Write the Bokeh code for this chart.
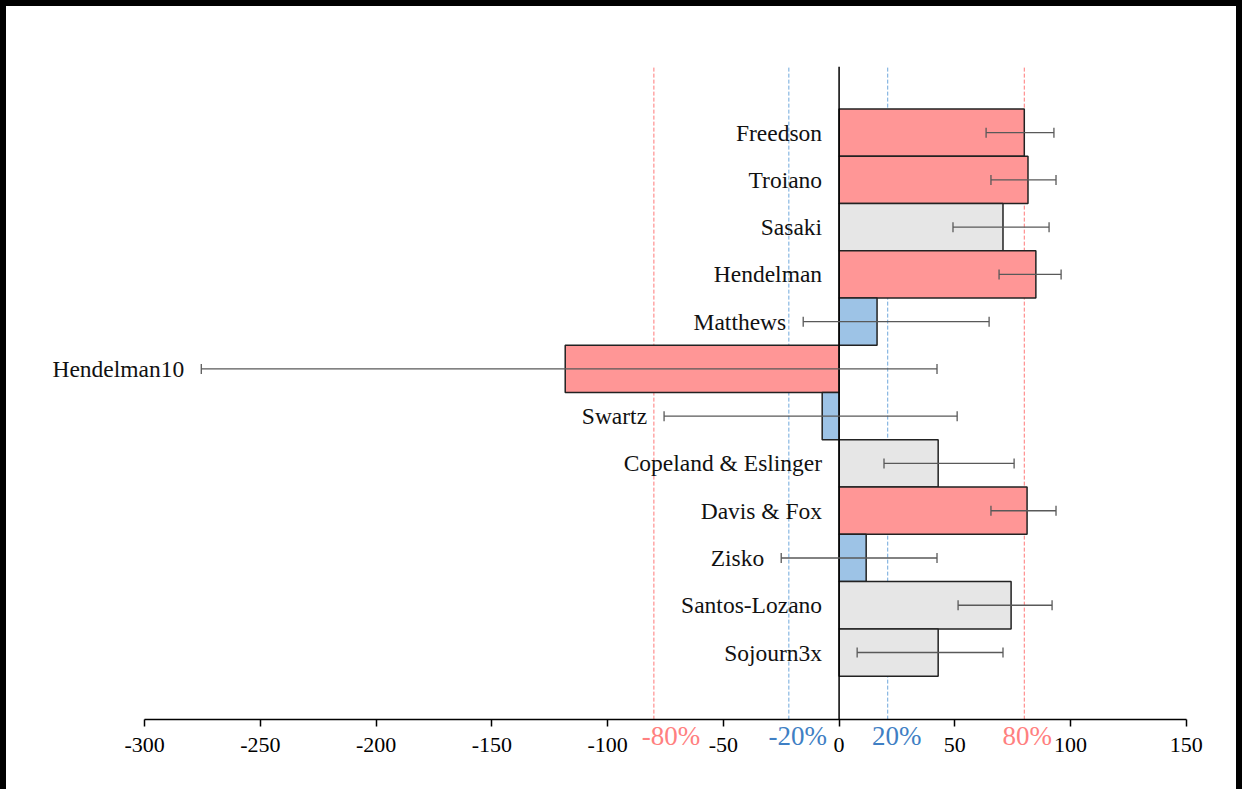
from bokeh.plotting import figure
from bokeh.models import ColumnDataSource, Range1d, FixedTicker, Whisker, TeeHead
from bokeh.core.properties import value
from bokeh.embed import file_html
from bokeh.resources import INLINE

# ---- data ----
studies = ["Freedson", "Troiano", "Sasaki", "Hendelman", "Matthews", "Hendelman10",
           "Swartz", "Copeland & Eslinger", "Davis & Fox", "Zisko", "Santos-Lozano", "Sojourn3x"]
values = [80.0, 81.6, 70.8, 85.0, 16.4, -118.3, -7.3, 42.8, 81.2, 11.7, 74.3, 42.8]
err_low = [63.5, 65.6, 49.2, 69.1, -15.5, -275.5, -75.6, 19.4, 65.6, -25.0, 51.4, 7.8]
err_high = [92.8, 93.7, 90.7, 95.9, 64.8, 42.3, 51.0, 75.6, 93.7, 42.3, 92.0, 70.8]
groups = ["pink", "pink", "gray", "pink", "blue", "pink", "blue", "gray", "pink", "blue", "gray", "gray"]
x_ticks = [-300, -250, -200, -150, -100, -50, 0, 50, 100, 150]
ref_lines = [-80, -21.7, 21.0, 80]
ref_labels = ["-80%", "-20%", "20%", "80%"]
ref_kinds = ["pink", "blue", "blue", "pink"]

fill_map = {"pink": "#FF9696", "gray": "#E6E6E6", "blue": "#9DC3E6"}
line_map = {"pink": "#FF7878", "blue": "#6FA8DC"}
text_map = {"pink": "#FF8080", "blue": "#3F7FC4"}

n = len(studies)
ypos = [n - i for i in range(n)]
label_x = [min(0, lo) for lo in err_low]

# axis layout
x_min, x_max = x_ticks[0], x_ticks[-1]
y_top = n + 1.4
axis_y = 1 - 1.42
y_bottom = axis_y - 1.5

src = ColumnDataSource(dict(
    y=ypos, v=values, lo=err_low, hi=err_high, name=studies, lx=label_x,
    fill=[fill_map[g] for g in groups]))

ref_src = ColumnDataSource(dict(
    x=ref_lines, lab=ref_labels,
    lc=[line_map[k] for k in ref_kinds], tc=[text_map[k] for k in ref_kinds],
    off=[17, 9, 9, 3]))

p = figure(width=1242, height=789, output_backend="svg", toolbar_location=None,
           x_range=Range1d(-351, 160), y_range=Range1d(y_bottom, y_top),
           min_border_left=20, min_border_right=39, min_border_top=60, min_border_bottom=5)
p.styles = {"border-top": "6px solid black", "border-left": "6px solid black",
            "border-right": "6px solid black"}
p.outline_line_color = None
p.xgrid.visible = False
p.ygrid.visible = False
p.yaxis.visible = False

ax = p.xaxis[0]
ax.fixed_location = axis_y
ax.bounds = (x_min, x_max)
ax.ticker = FixedTicker(ticks=x_ticks)
ax.major_label_overrides = {t: str(t) for t in x_ticks}
ax.minor_tick_line_color = None
ax.major_tick_in = 0
ax.major_tick_out = 7
ax.axis_line_width = 1.5
ax.major_tick_line_width = 1.5
ax.major_label_text_font = "Liberation Serif"
ax.major_label_text_font_size = "22px"
ax.major_label_text_color = "black"
ax.major_label_standoff = 11

# reference dashed lines
p.segment(x0="x", y0=axis_y, x1="x", y1=y_top + 0.05, line_color="lc", line_width=1,
          line_dash="4 2", source=ref_src)

p.hbar(y="y", left=0, right="v", height=1.0, fill_color="fill", line_color="#222222",
       line_width=1.5, source=src)

# zero line
p.segment(x0=[0], y0=[axis_y], x1=[0], y1=[y_top], line_color="black", line_width=1.5)

w = Whisker(base="y", lower="lo", upper="hi", dimension="width", source=src,
            line_color="#595959", line_width=1.3, level="overlay",
            lower_head=TeeHead(size=10, line_color="#595959", line_width=1.3),
            upper_head=TeeHead(size=10, line_color="#595959", line_width=1.3))
p.add_layout(w)

p.text(x="lx", y="y", text="name", source=src, x_offset=-17, text_align="right",
       text_baseline="middle", text_font=value("Liberation Serif"),
       text_font_size="23.5px", text_color="#111111")

p.text(x="x", y=axis_y, text="lab", source=ref_src, x_offset="off", y_offset=16,
       text_align="center", text_baseline="middle", text_font=value("Liberation Serif"),
       text_font_size="27px", text_color="tc")

open("out.html", "w").write(file_html(p, INLINE))
